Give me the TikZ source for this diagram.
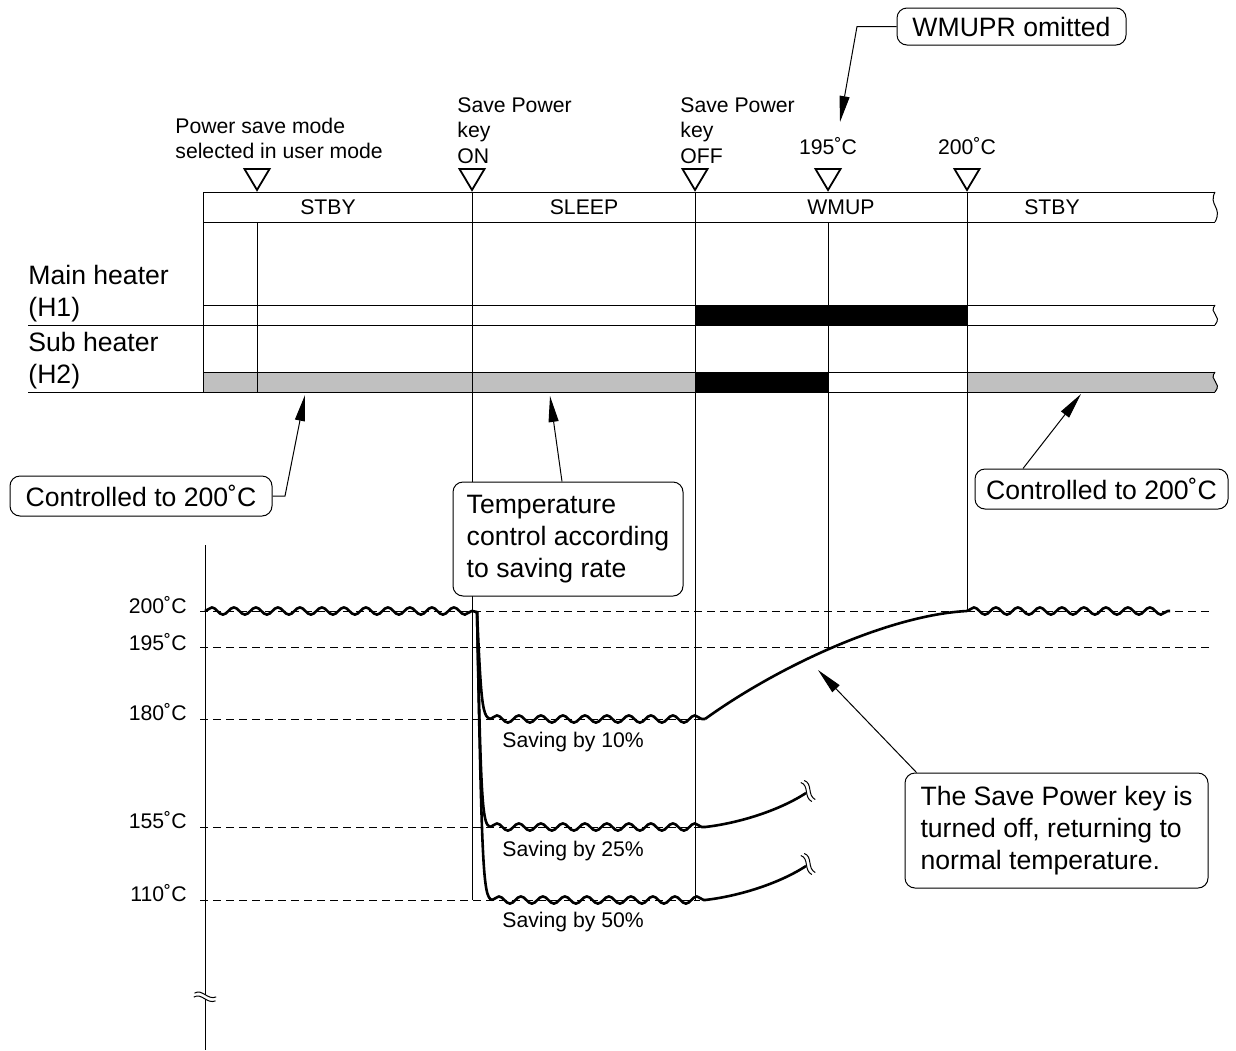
\documentclass[tikz,border=0pt]{standalone}
\usepackage{fontspec}
\setmainfont{Liberation Sans}
\usetikzlibrary{arrows.meta,decorations.pathmorphing,positioning,calc}
\definecolor{cSub}{HTML}{C0C0C0}
\tikzset{
  thn/.style={line width=.5pt},
  dsh/.style={line width=.5pt,dash pattern=on 4pt off 2.5pt},
  temp/.style={line width=1.3pt,line join=round},
  wavy/.style={temp,decorate,decoration={snake,segment length=11pt,amplitude=1.8pt}},
  tri/.style={line width=.9pt,line join=miter},
  sm/.style={font=\fontsize{10.6}{12.75}\selectfont,inner sep=0pt},
  bg/.style={font=\fontsize{13.3}{16}\selectfont,inner sep=0pt},
  callout/.style={bg,draw,fill=white,line width=.5pt,rounded corners=5pt,align=left},
  arr/.style={line width=.5pt,-{Triangle[length=13pt,width=5pt]}},
}
% break mark: position, angle
\newcommand{\brkmark}[2]{%
  \begin{scope}[shift={#1},rotate=#2]
    \fill[white] (-3,-2) rectangle (3,2);
    \draw[thn] (-11,-2) .. controls (-4,-8) and (3,3) .. (11,-2);
    \draw[thn] (-11,2) .. controls (-4,-4) and (3,7) .. (11,2);
  \end{scope}}
% right edge break of a bar: top, bottom
\newcommand{\tbrk}[2]{%
  \draw[thn] (1215,#1) .. controls (1208,{#1+0.45*(#2-#1)}) and (1223,{#1+0.5*(#2-#1)}) .. (1215,#2);}

\begin{document}
\begin{tikzpicture}[x=0.5pt,y=-0.5pt]
  \useasboundingbox (0,0) rectangle (1236,1050);
  % heater bars
  \fill[cSub] (203,372) rectangle (695,392);
  \fill[black] (695,372) rectangle (828,392);
  \fill[cSub] (967,372) -- (1215,372) .. controls (1208,381) and (1223,382) .. (1215,392) -- (967,392) -- cycle;
  \fill[black] (695,305) rectangle (967,325);
  \draw[thn] (203,192) -- (1215,192) (203,222) -- (1215,222);
  \draw[thn] (203,305) -- (1215,305) (28,325) -- (1215,325);
  \draw[thn] (203,372) -- (1215,372) (28,392) -- (1215,392);
  \tbrk{192}{222} \tbrk{305}{325} \tbrk{372}{392}
  \foreach \x/\a/\b in {203/192/392,257/222/392,472/192/900,695/192/900,828/222/648,967/192/611}
    \draw[thn] (\x,\a) -- (\x,\b);
  \foreach \x in {257,472,695,828,967}
    \draw[tri] (\x-12.5,169) -- (\x+12.5,169) -- (\x,190) -- cycle;
  % event labels
  \node[sm,align=left,anchor=west] (psm) at (175,138.5) {Power save mode\\selected in user mode};
  \node[sm,align=left,anchor=west] (spon) at (457,130.5) {Save Power\\key\\ON};
  \node[sm,align=left,anchor=west] (spoff) at (680,130.5) {Save Power\\key\\OFF};
  \node[sm] (e195) at (828,146) {195˚C};
  \node[sm] (e200) at (967,146) {200˚C};
  \node[sm] (m1) at (328,207) {STBY};
  \node[sm] (m2) at (584,207) {SLEEP};
  \node[sm] (m3) at (841,207) {WMUP};
  \node[sm] (m4) at (1052,207) {STBY};
  \node[bg,align=left,anchor=west] (h1) at (28,293.5) {Main heater\\(H1)};
  \node[bg,align=left,anchor=west] (h2) at (28,360.5) {Sub heater\\(H2)};
  % callouts
  \node[callout,minimum width=114.5pt,minimum height=18.5pt] (wmupr) at (1011.5,26.5) {WMUPR omitted};
  \node[callout,minimum width=131pt,minimum height=20pt] (ctlL) at (141,496) {Controlled to 200˚C};
  \node[callout,minimum width=126.5pt,minimum height=20pt] (ctlR) at (1101.5,489) {Controlled to 200˚C};
  \node[callout,minimum width=115pt,minimum height=57pt] (tc) at (568,539) {Temperature\\control according\\to saving rate};
  \node[callout,minimum width=151.5pt,minimum height=57.5pt] (spk) at (1056.5,830.5) {The Save Power key is\\turned off, returning to\\normal temperature.};
  \coordinate (wA) at (840,122);
  \coordinate (lA) at (305,395);
  \coordinate (rA) at (1081,394);
  \coordinate (tA) at (550,396);
  \coordinate (sA) at (818,670);
  \draw[arr] (wmupr.west) -- (857,26.5) -- (wA);
  \draw[arr] (ctlL.east) -- (285,496) -- (lA);
  \draw[arr] ([xshift=-39.25pt]ctlR.north) -- (rA);
  \draw[arr] ([xshift=-3pt]tc.north) -- (tA);
  \draw[arr] ([xshift=6pt]spk.north west) -- (sA);
  % temperature graph
  \draw[thn] (205,545) -- (205,1050);
  \brkmark{(205,997)}{-10}
  \draw[dsh] (200,611) -- (1212,611) (200,647) -- (1212,647);
  \draw[dsh] (200,719) -- (700,719) (200,827) -- (700,827) (200,900) -- (700,900);
  \node[sm,anchor=east] (g200) at (187,605) {200˚C};
  \node[sm,anchor=east] (g195) at (187,642) {195˚C};
  \node[sm,anchor=east] (g180) at (187,712) {180˚C};
  \node[sm,anchor=east] (g155) at (187,820) {155˚C};
  \node[sm,anchor=east] (g110) at (187,893) {110˚C};
  \draw[wavy] (205,611) -- (472,611);
  \draw[temp] (472,611) -- (477,612) .. controls (481,700) and (482,716) .. (490,719);
  \draw[temp] (477,612) .. controls (481,800) and (482,824) .. (490,827);
  \draw[temp] (477,612) .. controls (482,870) and (483,897) .. (492,900);
  \draw[wavy] (490,719) -- (705,719);
  \draw[wavy] (490,827) -- (705,827);
  \draw[wavy] (492,900) -- (705,900);
  \draw[temp] (705,719) .. controls (780,665) and (890,615) .. (967,611);
  \draw[wavy] (967,611) -- (1170,611);
  \draw[temp] (705,827) .. controls (740,823) and (780,810) .. (806,793);
  \draw[temp] (705,900) .. controls (740,896) and (780,883) .. (806,866);
  \brkmark{(808,791)}{-60}
  \brkmark{(808,864)}{-60}
  \node[sm,anchor=west] (s10) at (502,742) {Saving by 10\%};
  \node[sm,anchor=west] (s25) at (502,851) {Saving by 25\%};
  \node[sm,anchor=west] (s50) at (502,922) {Saving by 50\%};
\end{tikzpicture}
\end{document}
